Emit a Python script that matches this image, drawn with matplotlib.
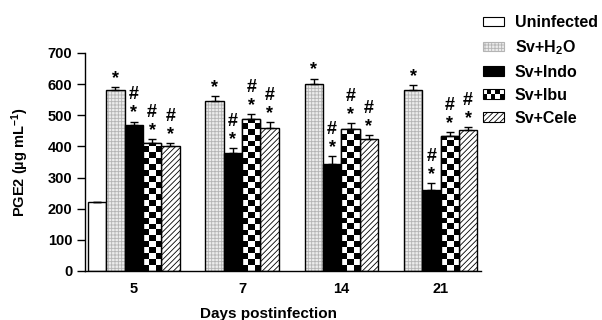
import numpy as np
import matplotlib
matplotlib.use('Agg')
import matplotlib.pyplot as plt
from matplotlib.patches import Rectangle, Patch
from matplotlib.legend_handler import HandlerBase

# PGE2 by day post infection (day 5 is the only day with an uninfected group)
days = ['5', '7', '14', '21']
uninfected = [220]
uninfected_err = [3]
h2o = [581, 546, 600, 581]
h2o_err = [11, 17, 18, 15]
indo = [470, 380, 342, 261]
indo_err = [10, 14, 27, 21]
ibu = [410, 487, 457, 435]
ibu_err = [13, 16, 17, 12]
cele = [400, 459, 423, 452]
cele_err = [12, 19, 15, 9]
labels = ['Uninfected', 'Sv+H$_2$O', 'Sv+Indo', 'Sv+Ibu', 'Sv+Cele']

plt.rcParams['font.family'] = ['Liberation Sans', 'DejaVu Sans']
plt.rcParams['font.weight'] = 'bold'
plt.rcParams['mathtext.fontset'] = 'custom'
plt.rcParams['mathtext.rm'] = 'Liberation Sans:bold'
plt.rcParams['mathtext.default'] = 'rm'
plt.rcParams['hatch.linewidth'] = 0.6

fig = plt.figure(figsize=(6.02, 3.2), dpi=100)
ax = fig.add_axes([85 / 602, 1 - 271 / 320, 396 / 602, 218 / 320])

w = 1.0
gap = 1.4
# left edge of the first bar of each group
starts = [0.15]
starts.append(starts[0] + 5 * w + gap)
for i in range(2):
    starts.append(starts[-1] + 4 * w + gap)

GRAY_FACE = '#ececec'
GRAY_HATCH = '#b4b4b4'


def draw_bar(x, val, err, style, marks):
    kw = dict(width=w, align='edge')
    if style == 'white':
        ax.bar(x, val, color='white', edgecolor='black', lw=1, **kw)
    elif style == 'gray':
        ax.bar(x, val, color=GRAY_FACE, edgecolor=GRAY_HATCH, hatch='+++++', lw=0, **kw)
        ax.bar(x, val, color='none', edgecolor='black', lw=1, **kw)
    elif style == 'black':
        ax.bar(x, val, color='black', edgecolor='black', lw=1, **kw)
    elif style == 'checker':
        b = ax.bar(x, val, color='white', edgecolor='black', lw=1, zorder=1, **kw)[0]
        cell = 19.0
        nr = int(np.ceil(val / cell))
        arr = np.indices((nr, 3)).sum(axis=0) % 2
        im = ax.imshow(arr, extent=(x, x + w, 0, nr * cell), origin='lower',
                       cmap='gray', interpolation='nearest', aspect='auto', zorder=1.5)
        im.set_clip_path(b)
        ax.bar(x, val, color='none', edgecolor='black', lw=1, zorder=2, **kw)
    elif style == 'hatch':
        ax.bar(x, val, color='white', edgecolor='black', hatch='//////', lw=1, **kw)
    ax.errorbar(x + w / 2, val, yerr=[[0], [err]], fmt='none', ecolor='black',
                elinewidth=1, capsize=3.2, capthick=1, zorder=3)
    top = val + err
    if '*' in marks:
        ax.annotate('*', (x + w / 2, top), xytext=(0, 0), textcoords='offset points',
                    ha='center', va='bottom', fontsize=13, fontweight='bold')
    if '#' in marks:
        ax.annotate('#', (x + w / 2, top), xytext=(0, 13), textcoords='offset points',
                    ha='center', va='bottom', fontsize=13, fontweight='bold')


centers = []
for d in range(len(days)):
    x = starts[d]
    n = 4
    if d < len(uninfected):
        draw_bar(x, uninfected[d], uninfected_err[d], 'white', '')
        x += w
        n = 5
    draw_bar(x, h2o[d], h2o_err[d], 'gray', '*')
    draw_bar(x + w, indo[d], indo_err[d], 'black', '*#')
    draw_bar(x + 2 * w, ibu[d], ibu_err[d], 'checker', '*#')
    draw_bar(x + 3 * w, cele[d], cele_err[d], 'hatch', '*#')
    centers.append(starts[d] + n * w / 2)

ax.set_xlim(0, starts[-1] + 4 * w + 0.2)
ax.set_ylim(0, 700)
ax.set_yticks(range(0, 701, 100))
ax.set_xticks(centers)
ax.set_xticklabels(days)
ax.tick_params(axis='y', direction='out', length=6, width=1, labelsize=10.5, pad=3)
ax.tick_params(axis='x', length=0, labelsize=10.5, pad=8)
for t in ax.get_xticklabels() + ax.get_yticklabels():
    t.set_fontweight('bold')
ax.spines['top'].set_visible(False)
ax.spines['right'].set_visible(False)
ax.spines['left'].set_linewidth(1)
ax.spines['bottom'].set_linewidth(1)

ax.set_ylabel('PGE2 (\u00b5g mL$^{-1}$)', fontsize=10.5, fontweight='bold', labelpad=12)
fig.text(268 / 602, 1 - 314 / 320, 'Days postinfection', ha='center', va='center',
         fontsize=11, fontweight='bold')


class CheckerHandler(HandlerBase):
    def create_artists(self, legend, orig_handle, xdescent, ydescent, width, height, fontsize, trans):
        arts = [Rectangle((-xdescent, -ydescent), width, height, facecolor='white',
                          edgecolor='black', lw=0.8, transform=trans)]
        nc, nr = 5, 2
        for i in range(nc):
            for j in range(nr):
                if (i + j) % 2 == 0:
                    arts.append(Rectangle((-xdescent + i * width / nc, -ydescent + j * height / nr),
                                          width / nc, height / nr, facecolor='black', lw=0,
                                          transform=trans))
        return arts


handles = [
    Patch(facecolor='white', edgecolor='black', lw=0.8),
    Patch(facecolor=GRAY_FACE, edgecolor=GRAY_HATCH, hatch='+++++', lw=0.8),
    Patch(facecolor='black', edgecolor='black', lw=0.8),
    Patch(facecolor='white', edgecolor='black', lw=0.8),
    Patch(facecolor='white', edgecolor='black', hatch='//////', lw=0.8),
]
fig.legend(handles, labels, loc='upper left', bbox_to_anchor=(483 / 602, 1 - 15 / 320),
           frameon=False, handlelength=1.3, handleheight=0.5,
           handletextpad=0.7, labelspacing=0.5, borderaxespad=0, borderpad=0,
           handler_map={handles[3]: CheckerHandler()},
           prop={'weight': 'bold', 'size': 11.5})

fig.savefig('out.png', dpi=100)
